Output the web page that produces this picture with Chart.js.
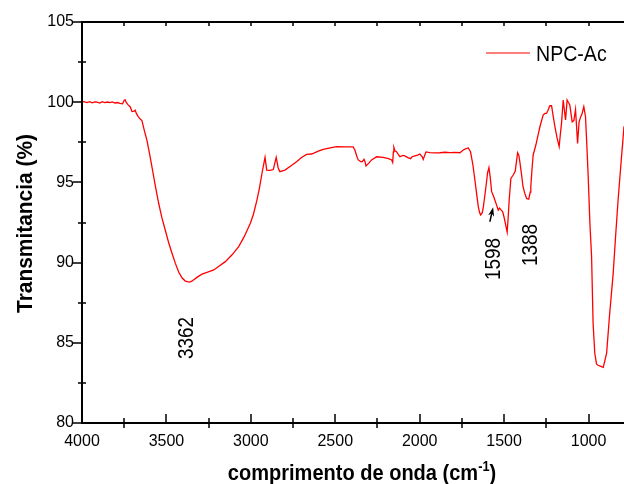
<!DOCTYPE html>
<html>
<head>
<meta charset="utf-8">
<script src="https://cdn.jsdelivr.net/npm/chart.js@4.4.1/dist/chart.umd.min.js"></script>
<style>
  html, body { margin: 0; padding: 0; background: #fff; overflow: hidden; }
  canvas { display: block; }
</style>
</head>
<body>
<canvas id="ftir" width="624" height="484"></canvas>
<script>
// FTIR spectrum of NPC-Ac: wavenumber (cm-1) and transmittance (%)
const wavenumbers = [
  4000, 3985, 3970, 3955, 3940, 3925, 3910, 3895, 3880, 3865, 3850, 3835, 3820, 3805, 3790, 3775, 3760,
  3750, 3744, 3738, 3728, 3715, 3704, 3692, 3685, 3678, 3668, 3655, 3645, 3630, 3615, 3600, 3586, 3566,
  3546, 3527, 3507, 3487, 3467, 3447, 3428, 3408, 3388, 3370, 3362, 3350, 3340, 3319, 3290, 3260, 3220,
  3185, 3151, 3110, 3072, 3040, 3003, 2985, 2964, 2950, 2934, 2916, 2906, 2887, 2867, 2850, 2838, 2828,
  2798, 2760, 2729, 2700, 2670, 2640, 2600, 2571, 2530, 2492, 2440, 2394, 2384, 2370, 2364, 2350, 2340,
  2330, 2324, 2318, 2300, 2285, 2255, 2216, 2185, 2166, 2160, 2156, 2153, 2146, 2137, 2127, 2117, 2100,
  2088, 2070, 2054, 2045, 2028, 2012, 1999, 1985, 1979, 1970, 1963, 1940, 1910, 1880, 1850, 1820, 1790,
  1762, 1742, 1725, 1713, 1699, 1685, 1673, 1663, 1653, 1645, 1639, 1630, 1624, 1614, 1604, 1598, 1590,
  1582, 1574, 1563, 1555, 1545, 1535, 1527, 1521, 1509, 1501, 1490, 1482, 1476, 1470, 1460, 1446, 1434,
  1427, 1420, 1413, 1407, 1397, 1388, 1377, 1367, 1354, 1345, 1342, 1335, 1328, 1312, 1300, 1288, 1269,
  1259, 1249, 1240, 1229, 1219, 1209, 1199, 1187, 1174, 1167, 1160, 1150, 1143, 1136, 1127, 1120, 1111,
  1104, 1097, 1087, 1077, 1071, 1065, 1056, 1046, 1038, 1028, 1018, 1010, 1002, 992, 982, 973, 963,
  953, 943, 930, 920, 913, 903, 893, 875, 854, 840, 825, 810, 795, 790
];
const transmittance = [
  100.05, 100.02, 99.98, 100.03, 99.96, 100.02, 100.0, 99.95, 100.03, 99.98, 100.01, 99.97, 100.02, 99.95, 99.98, 99.93, 99.9,
  100.12, 100.15, 99.98, 99.85, 99.72, 99.42, 99.45, 99.5, 99.3, 99.12, 98.95, 98.85, 98.2, 97.6, 96.8, 95.98, 94.8,
  93.7, 92.8, 92.03, 91.25, 90.58, 89.95, 89.43, 89.05, 88.85, 88.8, 88.78, 88.84, 88.92, 89.08, 89.28, 89.39, 89.54,
  89.8, 90.06, 90.5, 91.0, 91.6, 92.45, 93.0, 93.9, 94.6, 95.57, 96.56, 95.77, 95.75, 95.8, 96.56, 95.9, 95.67,
  95.77, 96.05, 96.29, 96.55, 96.75, 96.77, 96.95, 97.06, 97.15, 97.23, 97.22, 97.21, 97.02, 96.55, 96.4, 96.3, 96.3,
  96.44, 96.3, 96.02, 96.22, 96.4, 96.6, 96.56, 96.48, 96.4, 96.25, 96.9, 97.19, 96.95, 96.91, 96.75, 96.6, 96.68,
  96.65, 96.55, 96.48, 96.6, 96.65, 96.7, 96.77, 96.6, 96.44, 96.7, 96.9, 96.86, 96.84, 96.85, 96.88, 96.86, 96.87,
  96.85, 97.02, 97.1, 97.16, 96.91, 96.1, 95.15, 94.3, 93.49, 93.1, 92.97, 93.1, 93.39, 94.2, 95.04, 95.6, 95.92,
  95.3, 94.42, 94.15, 93.9, 93.6, 93.28, 93.4, 93.32, 93.18, 92.86, 92.3, 91.9, 92.8, 93.9, 95.25, 95.46, 95.71,
  96.3, 96.85, 96.7, 96.29, 95.5, 94.73, 94.3, 94.0, 93.95, 94.4, 94.73, 95.8, 96.71, 97.33, 97.9, 98.47, 99.2,
  99.3, 99.3, 99.5, 99.78, 99.78, 99.1, 98.47, 97.8, 97.23, 98.0, 98.68, 100.14, 99.5, 98.89, 100.14, 100.0, 99.83,
  99.3, 98.78, 98.85, 99.55, 98.5, 97.43, 98.78, 99.1, 99.3, 99.72, 99.1, 97.3, 95.36, 92.45, 90.37, 86.2, 84.35,
  83.68, 83.6, 83.55, 83.5, 83.47, 83.9, 84.35, 86.8, 89.33, 91.6, 93.9, 95.9, 97.85, 98.5
];
const xTickValues = [4000, 3500, 3000, 2500, 2000, 1500, 1000];
const yTickValues = [80, 85, 90, 95, 100, 105];
const seriesName = 'NPC-Ac';
// assigned bands written next to the spectrum
const bandLabels = ['3362', '1598', '1388'];
const bandWavenumbers = [3362, 1598, 1388];

const FONT = '"Liberation Sans", Arial, Helvetica, sans-serif';

// draws text squeezed horizontally (narrow Arial-like face), optional rotation
function drawText(ctx, text, x, y, opts) {
  ctx.save();
  ctx.translate(x, y);
  if (opts.rotate) ctx.rotate(opts.rotate);
  ctx.scale(opts.sx || 1, 1);
  ctx.font = opts.font;
  ctx.fillStyle = '#000';
  ctx.textAlign = opts.align || 'left';
  ctx.textBaseline = 'alphabetic';
  ctx.fillText(text, 0, 0);
  ctx.restore();
}

const decorations = {
  id: 'decorations',
  afterDraw(chart) {
    const { ctx, chartArea: a, scales: { x, y } } = chart;
    ctx.save();

    // axis frame: left, top and bottom lines
    ctx.strokeStyle = '#000';
    ctx.lineWidth = 2;
    ctx.beginPath();
    ctx.moveTo(a.left - 1, a.top); ctx.lineTo(a.right, a.top);
    ctx.moveTo(a.left, a.top); ctx.lineTo(a.left, a.bottom);
    ctx.moveTo(a.left - 1, a.bottom); ctx.lineTo(a.right, a.bottom);
    ctx.stroke();

    // tick marks
    ctx.lineWidth = 1.5;
    ctx.beginPath();
    for (let v = 4000; v >= x.min; v -= 250) {
      const px = Math.round(x.getPixelForValue(v));
      if (v % 500 === 0) {
        ctx.moveTo(px, a.bottom); ctx.lineTo(px, a.bottom - 9);
      } else {
        ctx.moveTo(px, a.bottom + 5); ctx.lineTo(px, a.bottom - 5);
      }
      if (v < 4000) { ctx.moveTo(px, a.top); ctx.lineTo(px, a.top + 4); }
    }
    for (let v = 80; v <= 105; v += 2.5) {
      const py = Math.round(y.getPixelForValue(v));
      if (v % 5 === 0) {
        ctx.moveTo(a.left, py); ctx.lineTo(a.left - 9, py);
      } else {
        ctx.moveTo(a.left - 4, py); ctx.lineTo(a.left + 4, py);
      }
    }
    ctx.stroke();

    // axis titles
    drawText(ctx, 'Transmitancia (%)', 32, (a.top + a.bottom) / 2 + 1,
      { font: 'bold 22px ' + FONT, sx: 0.95, align: 'center', rotate: -Math.PI / 2 });

    const mainPart = 'comprimento de onda (cm';
    const supPart = '-1';
    const endPart = ')';
    const bigFont = 'bold 22px ' + FONT;
    const supFont = 'bold 14px ' + FONT;
    const sx = 0.91;
    ctx.font = bigFont;
    const w1 = ctx.measureText(mainPart).width;
    const w3 = ctx.measureText(endPart).width;
    ctx.font = supFont;
    const w2 = ctx.measureText(supPart).width;
    const total = (w1 + w2 + w3) * sx;
    const cx = 362, base = 480;
    let left = cx - total / 2;
    drawText(ctx, mainPart, left, base, { font: bigFont, sx });
    left += w1 * sx;
    drawText(ctx, supPart, left, base - 9, { font: supFont, sx });
    left += w2 * sx;
    drawText(ctx, endPart, left, base, { font: bigFont, sx });

    // legend entry
    const ds = chart.data.datasets[0];
    ctx.strokeStyle = ds.borderColor;
    ctx.lineWidth = 1.2;
    ctx.beginPath();
    ctx.moveTo(486, 53); ctx.lineTo(530, 53);
    ctx.stroke();
    drawText(ctx, ds.label, 536, 61, { font: '22px ' + FONT, sx: 0.89 });

    // band labels, written vertically
    const labelAnchors = [
      { dx: 3, t: 85.3 },
      { dx: 12, t: 90.22 },
      { dx: 14, t: 91.1 }
    ];
    bandLabels.forEach((txt, i) => {
      const px = x.getPixelForValue(bandWavenumbers[i]) + labelAnchors[i].dx;
      const py = y.getPixelForValue(labelAnchors[i].t);
      drawText(ctx, txt, px, py, { font: '22px ' + FONT, sx: 0.86, align: 'center', rotate: -Math.PI / 2 });
    });

    // small arrow pointing at the 1598 shoulder
    const tipX = x.getPixelForValue(1565), tipY = y.getPixelForValue(93.45);
    const tailX = tipX - 3.3, tailY = tipY + 14.5;
    const ang = Math.atan2(tipY - tailY, tipX - tailX);
    ctx.strokeStyle = '#000';
    ctx.fillStyle = '#000';
    ctx.lineWidth = 1.5;
    ctx.beginPath();
    ctx.moveTo(tailX, tailY);
    ctx.lineTo(tipX - 6 * Math.cos(ang), tipY - 6 * Math.sin(ang));
    ctx.stroke();
    ctx.beginPath();
    ctx.moveTo(tipX, tipY);
    ctx.lineTo(tipX - 9 * Math.cos(ang) + 3 * Math.sin(ang), tipY - 9 * Math.sin(ang) - 3 * Math.cos(ang));
    ctx.lineTo(tipX - 6.5 * Math.cos(ang), tipY - 6.5 * Math.sin(ang));
    ctx.lineTo(tipX - 9 * Math.cos(ang) - 3 * Math.sin(ang), tipY - 9 * Math.sin(ang) + 3 * Math.cos(ang));
    ctx.closePath();
    ctx.fill();

    ctx.restore();
  }
};

new Chart(document.getElementById('ftir'), {
  type: 'line',
  data: {
    datasets: [{
      label: seriesName,
      data: wavenumbers.map((w, i) => ({ x: w, y: transmittance[i] })),
      borderColor: '#ff0000',
      borderWidth: 1.3,
      pointRadius: 0,
      tension: 0,
      fill: false
    }]
  },
  options: {
    responsive: false,
    animation: false,
    events: [],
    layout: { padding: { top: 22, right: 0, left: 0, bottom: 0 } },
    plugins: { legend: { display: false }, tooltip: { enabled: false } },
    scales: {
      x: {
        type: 'linear',
        reverse: true,
        min: 790,
        max: 4000,
        afterBuildTicks: s => { s.ticks = xTickValues.map(v => ({ value: v })); },
        afterFit: s => { s.height = 61; },
        grid: { display: false, drawTicks: false },
        border: { display: false },
        ticks: {
          font: { family: FONT, size: 16 }, color: '#000', padding: 9, maxRotation: 0, autoSkip: false,
          callback: v => String(v)
        }
      },
      y: {
        min: 80,
        max: 105,
        afterBuildTicks: s => { s.ticks = yTickValues.map(v => ({ value: v })); },
        afterFit: s => { s.width = 82; },
        grid: { display: false, drawTicks: false },
        border: { display: false },
        ticks: { font: { family: FONT, size: 16 }, color: '#000', padding: 8, callback: v => String(v) }
      }
    }
  },
  plugins: [decorations]
});
</script>
</body>
</html>
